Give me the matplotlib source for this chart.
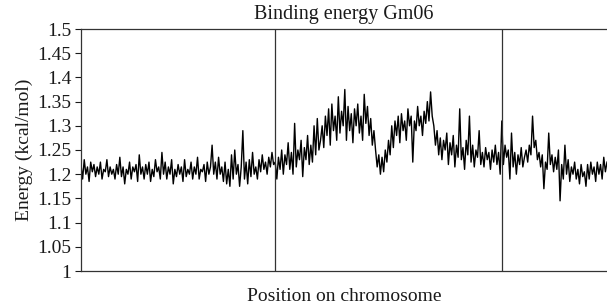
import numpy as np
import matplotlib
matplotlib.use("Agg")
import matplotlib.pyplot as plt

# binding energy along chromosome Gm06
left_flank = [1.22, 1.19, 1.23, 1.2, 1.215, 1.185, 1.225, 1.205, 1.22, 1.195,
              1.215, 1.2, 1.225, 1.19, 1.21, 1.205, 1.23, 1.195, 1.215, 1.2,
              1.21, 1.19, 1.22, 1.2, 1.235, 1.195, 1.215, 1.18, 1.21, 1.2,
              1.225, 1.19, 1.215, 1.205, 1.22, 1.185, 1.24, 1.2, 1.215, 1.19,
              1.22, 1.2, 1.225, 1.185, 1.21, 1.195, 1.23, 1.205, 1.215, 1.19,
              1.245, 1.2, 1.225, 1.19, 1.215, 1.2, 1.23, 1.18, 1.21, 1.195,
              1.22, 1.2, 1.215, 1.185, 1.23, 1.195, 1.21, 1.2, 1.225, 1.19,
              1.215, 1.2, 1.235, 1.19, 1.21, 1.205, 1.22, 1.185, 1.225, 1.2,
              1.215, 1.26, 1.2, 1.225, 1.19, 1.235, 1.2, 1.215, 1.185, 1.225,
              1.18, 1.21, 1.175, 1.24, 1.19, 1.25, 1.2, 1.22, 1.175, 1.215,
              1.29, 1.19, 1.225, 1.18, 1.23, 1.195, 1.245, 1.2, 1.215, 1.19,
              1.23, 1.205, 1.24, 1.21, 1.225, 1.2, 1.235, 1.215, 1.245, 1.22]
rise = [1.225, 1.19, 1.235, 1.21, 1.25, 1.2, 1.24, 1.22, 1.265, 1.21,
        1.245, 1.2, 1.305, 1.215, 1.25, 1.23, 1.27, 1.195, 1.255, 1.23,
        1.28, 1.22, 1.26, 1.225, 1.3, 1.24, 1.315, 1.25]
peak_1 = [1.27, 1.3, 1.255, 1.32, 1.28, 1.335, 1.26, 1.345, 1.29, 1.32,
          1.27, 1.36, 1.285, 1.33, 1.3, 1.375, 1.27, 1.34, 1.29, 1.325,
          1.265, 1.335, 1.3, 1.345, 1.285, 1.32, 1.27, 1.365, 1.305, 1.34,
          1.28, 1.315, 1.26, 1.29]
dip = [1.25, 1.215, 1.24, 1.2, 1.235, 1.205, 1.25, 1.225]
peak_2 = [1.27, 1.24, 1.3, 1.255, 1.31, 1.28, 1.32, 1.265, 1.325, 1.29,
          1.31, 1.27, 1.335, 1.3, 1.32, 1.225, 1.31, 1.29, 1.34, 1.3,
          1.32, 1.28, 1.33, 1.305, 1.35, 1.31, 1.37, 1.32]
decline = [1.3, 1.26, 1.29, 1.24, 1.275, 1.23, 1.27, 1.25, 1.285, 1.22,
           1.265, 1.24, 1.28, 1.215, 1.26, 1.235, 1.335, 1.23, 1.255, 1.21,
           1.27, 1.24, 1.32, 1.225, 1.26, 1.215, 1.25, 1.235, 1.29, 1.22,
           1.245, 1.215, 1.255, 1.23, 1.245, 1.21, 1.25, 1.225, 1.26, 1.22,
           1.245, 1.2]
right_region = [1.31, 1.22, 1.26, 1.235, 1.25, 1.19, 1.285, 1.215, 1.245, 1.2,
                1.24, 1.22, 1.255, 1.215, 1.235, 1.25, 1.225, 1.26, 1.24, 1.32,
                1.255, 1.27, 1.23, 1.245, 1.215, 1.24, 1.17, 1.225, 1.21, 1.285,
                1.22, 1.24, 1.205, 1.235, 1.21, 1.25, 1.145]
right_flank = [1.22, 1.19, 1.26, 1.2, 1.23, 1.185, 1.215, 1.2, 1.225, 1.19,
               1.21, 1.18, 1.22, 1.195, 1.205, 1.175, 1.22, 1.19, 1.225, 1.2,
               1.215, 1.185, 1.225, 1.2, 1.22, 1.19, 1.235, 1.205, 1.225]

segments = [left_flank, rise, peak_1, dip, peak_2, decline, right_region, right_flank]
energy = np.concatenate(segments)
pos = np.arange(len(energy))

# boundaries drawn as vertical lines: start of rise and start of right region
bounds = [len(left_flank), sum(len(s) for s in segments[:6])]

yticks = [1, 1.05, 1.1, 1.15, 1.2, 1.25, 1.3, 1.35, 1.4, 1.45, 1.5]

plt.rcParams['font.family'] = ['Liberation Serif', 'DejaVu Serif']

fig = plt.figure(figsize=(6.07, 3.08), dpi=100)
ax = fig.add_axes([81/607, 1-271/308, 1-81/607, 242/308])

ax.plot(pos, energy, color='black', lw=1.0)
for b in bounds:
    ax.axvline(b, color='#333333', lw=0.9)

ax.set_xlim(0, len(energy) - 1)
ax.set_ylim(1, 1.5)
ax.set_yticks(yticks)
ax.set_yticklabels(['%g' % t for t in yticks])
ax.set_xticks([])
ax.tick_params(axis='y', direction='out', length=4, width=0.8, pad=3, labelsize=14, colors='#1a1a1a')
ax.spines['right'].set_visible(False)
for s in ['left', 'top', 'bottom']:
    ax.spines[s].set_linewidth(0.9)
    ax.spines[s].set_color('#333333')

ax.set_title("Binding energy Gm06", fontsize=14.5, pad=7, color='#1a1a1a')
ax.set_xlabel("Position on chromosome", fontsize=14, labelpad=12, color='#1a1a1a')
ax.set_ylabel("Energy (kcal/mol)", fontsize=14, labelpad=3, color='#1a1a1a')

fig.savefig("out.png", dpi=100)
